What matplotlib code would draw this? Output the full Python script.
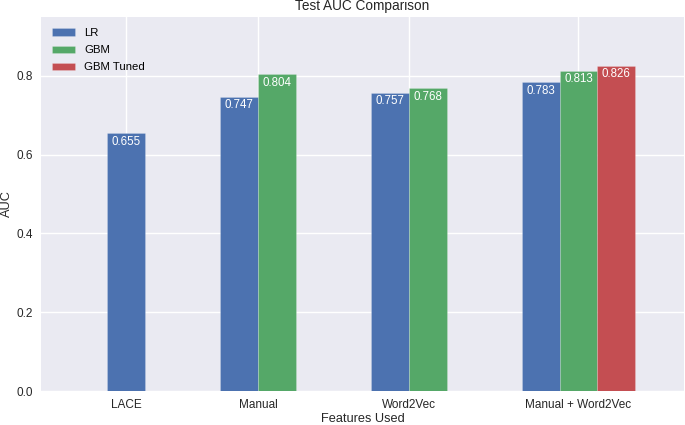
import numpy as np
import matplotlib
matplotlib.use("Agg")
import matplotlib.pyplot as plt

categories = ['LACE', 'Manual', 'Word2Vec', 'Manual + Word2Vec']
series_names = ['LR', 'GBM', 'GBM Tuned']
lr = [0.655, 0.747, 0.757, 0.783]
gbm = [np.nan, 0.804, 0.768, 0.813]
gbm_tuned = [np.nan, np.nan, np.nan, 0.826]
yticks = [0.0, 0.2, 0.4, 0.6, 0.8]

colors = ['#4C72B0', '#55A868', '#C44E52']
plt.rcParams['font.family'] = ['Liberation Sans', 'DejaVu Sans']

fig = plt.figure(figsize=(6.85, 4.25), dpi=100)
ax = fig.add_axes([0.0599, 0.08, 0.9386, 0.8807])
ax.set_facecolor('#EAEAF2')
for s in ax.spines.values():
    s.set_visible(False)
ax.set_axisbelow(True)
ax.grid(True, color='white', linewidth=1.0)

all_series = [lr, gbm, gbm_tuned]
gap = 2
width = 1.0
start = 0
centers = []
drawn = set()
for gi in range(len(categories)):
    present = [si for si in range(len(all_series)) if not np.isnan(all_series[si][gi])]
    for k, si in enumerate(present):
        x = start + k * width
        h = all_series[si][gi]
        lab = series_names[si] if si not in drawn else None
        drawn.add(si)
        ax.bar(x, h, width=width, color=colors[si], edgecolor='#FFFFFF40',
               linewidth=0.5, label=lab)
        ax.text(x, h - 0.022, f'{h:.3f}', ha='center', va='center',
                color='white', fontsize=8.3)
    centers.append(start + (len(present) - 1) * width / 2)
    start += len(present) * width + gap

ax.set_xticks(centers)
ax.set_xticklabels(categories)
ax.set_yticks(yticks)
ax.set_yticklabels([f'{v:.1f}' for v in yticks])
ax.tick_params(axis='both', length=0, labelsize=8.5, labelcolor='#262626')
ax.tick_params(axis='x', pad=6)
ax.tick_params(axis='y', pad=6)
ax.set_xlim(-2.26, 14.8)
ax.set_ylim(0, max(gbm_tuned[3], 0) * 1.15)
ax.set_xlabel('Features Used', fontsize=9.2, color='#262626', labelpad=1)
ax.set_ylabel('AUC', fontsize=9.2, color='#262626', labelpad=2)
ax.set_title('Test AUC Comparison', fontsize=9.8, color='#262626', pad=5)

handles, labels = ax.get_legend_handles_labels()
order = [labels.index(n) for n in series_names]
ax.legend([handles[i] for i in order], [labels[i] for i in order],
          loc='upper left', frameon=False, fontsize=8.2,
          handlelength=2.0, handleheight=0.6, borderaxespad=0.6,
          labelspacing=0.62, handletextpad=0.8)

fig.savefig('out.png', dpi=100)
